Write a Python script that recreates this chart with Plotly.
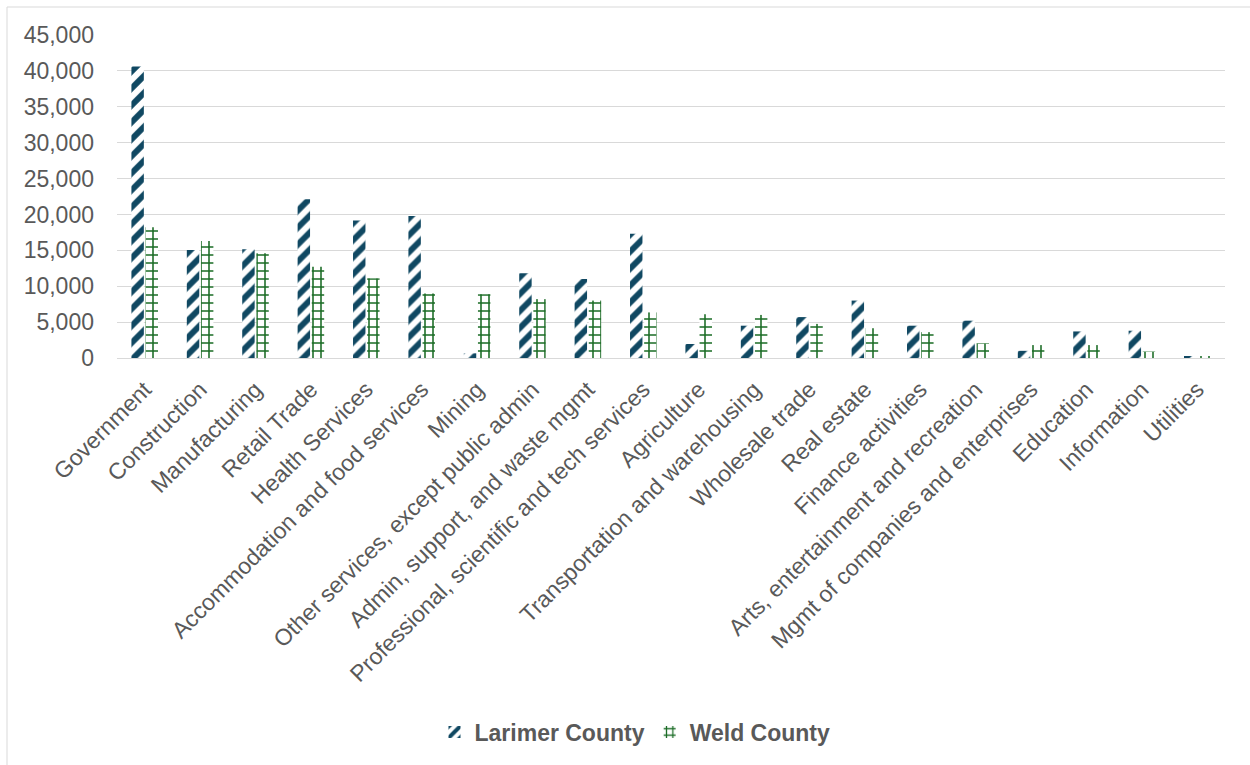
import plotly.graph_objects as go

categories = [
    "Government", "Construction", "Manufacturing", "Retail Trade", "Health Services",
    "Accommodation and food services", "Mining", "Other services, except public admin",
    "Admin, support, and waste mgmt", "Professional, scientific and tech services",
    "Agriculture", "Transportation and warehousing", "Wholesale trade", "Real estate",
    "Finance activities", "Arts, entertainment and recreation",
    "Mgmt of companies and enterprises", "Education", "Information", "Utilities",
]
larimer = [40600, 15050, 15150, 22100, 19150, 19800, 650, 11800, 11000, 17300,
           1950, 4500, 5700, 8000, 4500, 5200, 1000, 3700, 3800, 200]
weld = [18200, 16300, 14600, 12700, 11100, 9000, 8900, 8200, 8000, 6350,
        6100, 6000, 4750, 4150, 3600, 2050, 1800, 1800, 900, 250]
y_ticks = [0, 5000, 10000, 15000, 20000, 25000, 30000, 35000, 40000, 45000]

LAR = "#104862"
WELD = "#196B24"
FONT = "Liberation Sans, Arial, sans-serif"
GRAY = "#595959"
FS = 23

fig = go.Figure()
fig.add_trace(go.Bar(
    x=categories, y=larimer, name="Larimer County",
    marker=dict(color=LAR, line=dict(width=0),
                pattern=dict(shape="/", fgcolor=LAR, bgcolor="white",
                             size=12, solidity=0.5, fillmode="replace")),
))
fig.add_trace(go.Bar(
    x=categories, y=weld, name="Weld County",
    marker=dict(color=WELD, line=dict(width=0),
                pattern=dict(shape="+", fgcolor=WELD, bgcolor="white",
                             size=8, solidity=0.35, fillmode="replace")),
))

W, H = 1250, 765
L, R, T, B = 117, 25, 35, 407
pw = W - L - R
ph = H - T - B

fig.update_layout(
    width=W, height=H,
    margin=dict(l=L, r=R, t=T, b=B, pad=0),
    paper_bgcolor="white", plot_bgcolor="white",
    barmode="group", bargap=0.49, bargroupgap=0.12,
    font=dict(family=FONT, size=FS, color=GRAY),
    showlegend=True,
    legend=dict(orientation="h", x=(635 - L) / pw, xanchor="center",
                y=(H - B - 732) / ph, yanchor="middle",
                font=dict(family=FONT, size=FS, color=GRAY, weight="bold"),
                itemwidth=30, bgcolor="rgba(0,0,0,0)"),
    xaxis=dict(type="category", tickangle=-45, showgrid=False,
               showline=True, linecolor="#d9d9d9", linewidth=1,
               ticks="", ticklabelstandoff=8,
               tickfont=dict(family=FONT, size=FS, color=GRAY)),
    yaxis=dict(range=[0, 45000], tickvals=y_ticks, tickformat=",",
               showgrid=True, gridcolor="#d9d9d9", gridwidth=1,
               zeroline=False, showline=False, ticks="",
               ticklabelstandoff=22,
               tickfont=dict(family=FONT, size=FS, color=GRAY)),
    shapes=[
        dict(type="line", xref="paper", yref="paper",
             x0=(7 - L) / pw, x1=(W - L) / pw,
             y0=(H - B - 7) / ph, y1=(H - B - 7) / ph,
             line=dict(color="#d9d9d9", width=1)),
        dict(type="line", xref="paper", yref="paper",
             x0=(7 - L) / pw, x1=(7 - L) / pw,
             y0=(H - B - 7) / ph, y1=(H - B - H - 5) / ph,
             line=dict(color="#d9d9d9", width=1)),
    ],
)

fig.write_html("out.html")
